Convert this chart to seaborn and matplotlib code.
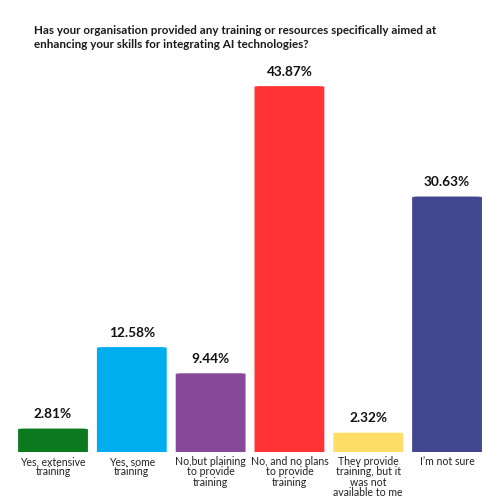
import pandas as pd
import matplotlib
matplotlib.use("Agg")
import matplotlib.pyplot as plt
import seaborn as sns
from matplotlib.patches import FancyBboxPatch

# datos del grafico
categorias = [
    "Yes, extensive\ntraining",
    "Yes, some\ntraining",
    "No,but plaining\nto provide\ntraining",
    "No, and no plans\nto provide\ntraining",
    "They provide\ntraining, but it\nwas not\navailable to me",
    "I\u2019m not sure",
]
porcentajes = [2.81, 12.58, 9.44, 43.87, 2.32, 30.63]
colores = ["#0B7A1E", "#00AEEF", "#874A9B", "#FF3333", "#FFDD66", "#41468F"]

titulo = ("Has your organisation provided any training or resources specifically aimed at\n"
          "enhancing your skills for integrating AI technologies?")

df = pd.DataFrame({"categoria": categorias, "valor": porcentajes})

sns.set_theme(style="white")
plt.rcParams["font.family"] = ["Lato", "DejaVu Sans"]

fig = plt.figure(figsize=(5, 5), dpi=100)
ax = fig.add_axes([0.0, 0.096, 1.0, 0.784])

sns.barplot(data=df, x="categoria", y="valor", hue="categoria",
            palette=colores, saturation=1, width=0.886, legend=False, ax=ax)

# cambiar barras por rectangulos con esquinas redondeadas
ymax = 47.0
ax.set_xlim(-0.6726, 5.672)
ax.set_ylim(0, ymax)
for p in list(ax.patches):
    x0, w, h = p.get_x(), p.get_width(), p.get_height()
    c = p.get_facecolor()
    p.remove()
    r = 0.09
    asp = 0.95
    bar = FancyBboxPatch((x0 + r, -3), w - 2 * r, h + 3 - r * asp,
                         boxstyle=f"round,pad={r},rounding_size={r}",
                         mutation_aspect=asp, facecolor=c, edgecolor="none")
    ax.add_patch(bar)

for i, v in enumerate(porcentajes):
    ax.annotate(f"{v:.2f}%", (i, v), xytext=(0, 6), textcoords="offset points",
                ha="center", va="bottom", fontsize=9.8, fontweight="bold", color="#111111")

ax.set_xticks(range(len(categorias)))
ax.set_xticklabels(categorias, fontsize=7.6, color="#222222", linespacing=0.92)
ax.tick_params(axis="x", length=0, pad=3)
ax.set_yticks([])
ax.set_xlabel("")
ax.set_ylabel("")
sns.despine(ax=ax, left=True, bottom=True)

fig.text(0.068, 0.95, titulo, ha="left", va="top", fontsize=8.4,
         fontweight="bold", color="#1a1a1a", linespacing=1.3)

fig.savefig("out.png", dpi=100, facecolor="white")
